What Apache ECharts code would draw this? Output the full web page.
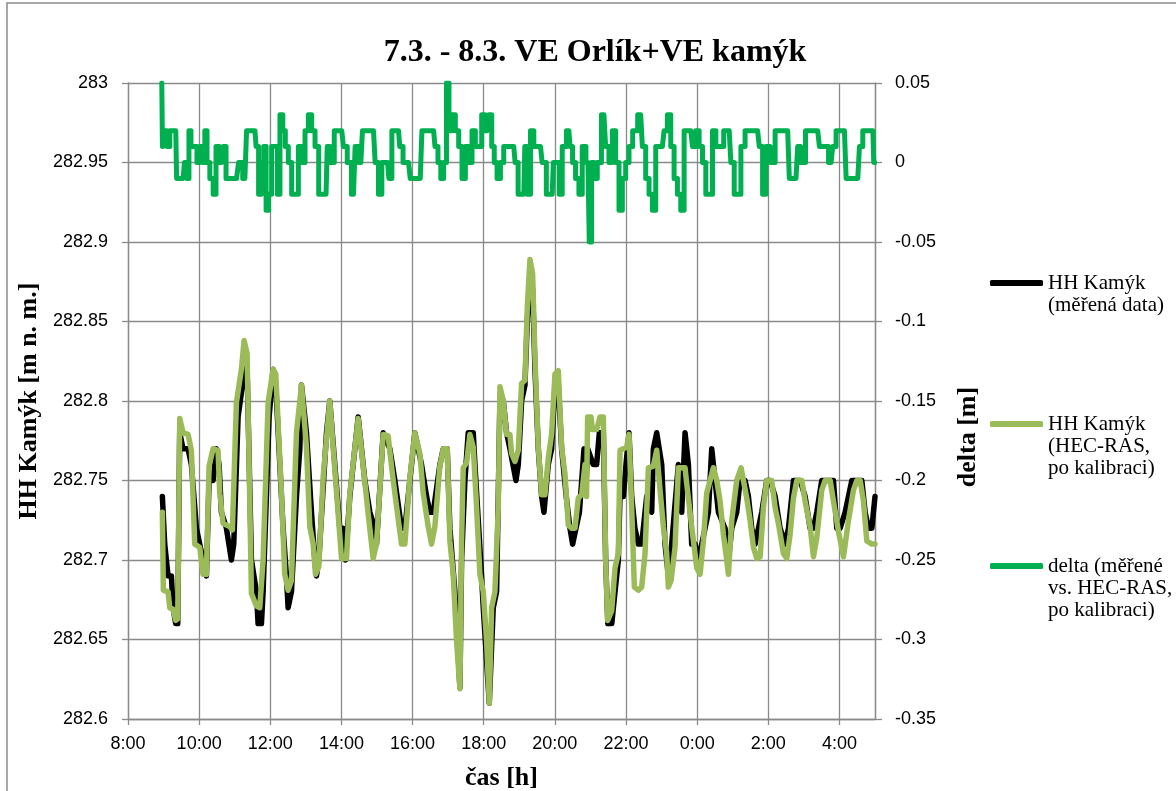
<!DOCTYPE html>
<html>
<head>
<meta charset="utf-8">
<script src="https://cdn.jsdelivr.net/npm/echarts@6/dist/echarts.min.js"></script>
<style>
  html, body { margin: 0; padding: 0; background: #ffffff; }
  #chart { width: 1176px; height: 791px; }
</style>
</head>
<body>
<div id="chart"></div>
<script>
// Time is given in hours from midnight of 7.3.; values above 24 fall on 8.3.
const timeTickHours  = [8, 10, 12, 14, 16, 18, 20, 22, 24, 26, 28];
const timeTickLabels = ['8:00', '10:00', '12:00', '14:00', '16:00', '18:00', '20:00', '22:00', '0:00', '2:00', '4:00'];

// Water level at Kamýk, measured [hour, m n. m.]
const measuredLevel = [
  [8.966, 282.740], [9.032, 282.710], [9.126, 282.690], [9.220, 282.690], [9.266, 282.670],
  [9.341, 282.660], [9.398, 282.660], [9.454, 282.780], [9.548, 282.770], [9.688, 282.770],
  [9.782, 282.760], [9.923, 282.720], [10.016, 282.710], [10.110, 282.700], [10.204, 282.690],
  [10.279, 282.750], [10.392, 282.750], [10.485, 282.770], [10.560, 282.760], [10.626, 282.730],
  [10.767, 282.720], [10.907, 282.700], [10.973, 282.710], [11.095, 282.790], [11.217, 282.810],
  [11.283, 282.830], [11.348, 282.820], [11.470, 282.700], [11.610, 282.680], [11.657, 282.660],
  [11.751, 282.660], [11.798, 282.680], [11.967, 282.790], [12.079, 282.820], [12.154, 282.810],
  [12.360, 282.720], [12.454, 282.690], [12.501, 282.670], [12.595, 282.680], [12.736, 282.740],
  [12.830, 282.770], [12.877, 282.810], [13.017, 282.780], [13.158, 282.730], [13.252, 282.700],
  [13.298, 282.690], [13.364, 282.700], [13.580, 282.780], [13.673, 282.800], [13.814, 282.760],
  [13.955, 282.720], [14.049, 282.720], [14.114, 282.700], [14.236, 282.740], [14.471, 282.790],
  [14.658, 282.750], [14.799, 282.730], [14.939, 282.720], [14.986, 282.710], [15.174, 282.780],
  [15.361, 282.770], [15.502, 282.750], [15.689, 282.720], [15.783, 282.720], [15.924, 282.750],
  [16.064, 282.780], [16.252, 282.760], [16.393, 282.740], [16.486, 282.730], [16.580, 282.730],
  [16.768, 282.760], [16.862, 282.770], [16.974, 282.770], [17.049, 282.720], [17.190, 282.680],
  [17.331, 282.620], [17.378, 282.700], [17.471, 282.750], [17.565, 282.780], [17.706, 282.780],
  [17.753, 282.760], [17.940, 282.690], [17.987, 282.670], [18.156, 282.610], [18.268, 282.670],
  [18.362, 282.680], [18.456, 282.800], [18.550, 282.800], [18.643, 282.780], [18.737, 282.770],
  [18.906, 282.750], [18.972, 282.760], [19.065, 282.800], [19.159, 282.810], [19.225, 282.850],
  [19.300, 282.880], [19.375, 282.870], [19.440, 282.820], [19.534, 282.770], [19.628, 282.740],
  [19.694, 282.730], [19.815, 282.760], [19.909, 282.770], [20.003, 282.810], [20.097, 282.810],
  [20.190, 282.770], [20.320, 282.740], [20.425, 282.720], [20.500, 282.710], [20.594, 282.720],
  [20.690, 282.730], [20.820, 282.770], [20.880, 282.750], [20.922, 282.770], [21.080, 282.760],
  [21.175, 282.760], [21.250, 282.780], [21.363, 282.780], [21.428, 282.700], [21.490, 282.660],
  [21.600, 282.660], [21.691, 282.680], [21.785, 282.700], [21.830, 282.740], [21.925, 282.740],
  [22.000, 282.760], [22.085, 282.780], [22.160, 282.740], [22.250, 282.720], [22.347, 282.710],
  [22.441, 282.710], [22.582, 282.740], [22.722, 282.730], [22.769, 282.770], [22.863, 282.780],
  [23.004, 282.760], [23.097, 282.710], [23.191, 282.690], [23.285, 282.710], [23.472, 282.760],
  [23.566, 282.730], [23.660, 282.780], [23.754, 282.760], [23.847, 282.710], [23.941, 282.710],
  [24.035, 282.700], [24.129, 282.710], [24.316, 282.730], [24.410, 282.770], [24.504, 282.750],
  [24.598, 282.730], [24.785, 282.720], [24.879, 282.700], [24.973, 282.720], [25.113, 282.730],
  [25.207, 282.750], [25.348, 282.750], [25.441, 282.740], [25.535, 282.720], [25.629, 282.710],
  [25.723, 282.720], [25.816, 282.730], [25.957, 282.750], [26.051, 282.750], [26.192, 282.740],
  [26.332, 282.720], [26.473, 282.710], [26.567, 282.720], [26.707, 282.750], [26.895, 282.750],
  [27.035, 282.740], [27.176, 282.720], [27.270, 282.720], [27.363, 282.730], [27.504, 282.750],
  [27.692, 282.750], [27.832, 282.750], [27.926, 282.720], [28.020, 282.720], [28.160, 282.730],
  [28.348, 282.750], [28.489, 282.750], [28.629, 282.750], [28.723, 282.730], [28.817, 282.720],
  [28.911, 282.720], [29.000, 282.740]
];

// Water level at Kamýk, HEC-RAS model after calibration [hour, m n. m.]
const modelLevel = [
  [8.966, 282.730], [8.994, 282.681], [9.126, 282.680], [9.173, 282.670], [9.266, 282.669],
  [9.341, 282.662], [9.398, 282.663], [9.454, 282.789], [9.548, 282.780], [9.688, 282.779],
  [9.782, 282.769], [9.876, 282.710], [10.016, 282.708], [10.110, 282.691], [10.204, 282.691],
  [10.279, 282.759], [10.392, 282.770], [10.532, 282.769], [10.579, 282.742], [10.673, 282.723],
  [10.860, 282.721], [10.935, 282.719], [11.048, 282.799], [11.188, 282.820], [11.264, 282.838],
  [11.348, 282.830], [11.470, 282.679], [11.610, 282.671], [11.704, 282.670], [11.798, 282.700],
  [11.939, 282.799], [12.079, 282.820], [12.154, 282.817], [12.314, 282.742], [12.407, 282.691],
  [12.501, 282.681], [12.595, 282.687], [12.736, 282.780], [12.877, 282.810], [13.017, 282.771],
  [13.111, 282.721], [13.205, 282.710], [13.270, 282.691], [13.364, 282.696], [13.486, 282.752],
  [13.673, 282.800], [13.767, 282.771], [13.908, 282.729], [14.002, 282.701], [14.142, 282.701],
  [14.236, 282.742], [14.471, 282.789], [14.611, 282.759], [14.752, 282.729], [14.892, 282.701],
  [14.986, 282.710], [15.174, 282.779], [15.314, 282.778], [15.408, 282.759], [15.502, 282.742],
  [15.689, 282.710], [15.783, 282.710], [15.924, 282.752], [16.064, 282.780], [16.205, 282.767],
  [16.299, 282.742], [16.440, 282.721], [16.533, 282.710], [16.627, 282.721], [16.768, 282.759],
  [16.862, 282.770], [16.974, 282.770], [17.049, 282.712], [17.143, 282.691], [17.237, 282.649],
  [17.331, 282.619], [17.378, 282.712], [17.424, 282.758], [17.518, 282.761], [17.612, 282.779],
  [17.706, 282.771], [17.800, 282.733], [17.893, 282.691], [17.987, 282.680], [18.081, 282.649],
  [18.156, 282.610], [18.222, 282.670], [18.315, 282.680], [18.409, 282.733], [18.456, 282.809],
  [18.550, 282.800], [18.643, 282.779], [18.737, 282.779], [18.784, 282.767], [18.878, 282.762],
  [18.972, 282.769], [19.065, 282.811], [19.159, 282.813], [19.225, 282.859], [19.300, 282.889],
  [19.375, 282.880], [19.440, 282.828], [19.534, 282.771], [19.628, 282.741], [19.722, 282.741],
  [19.815, 282.764], [19.909, 282.779], [20.003, 282.817], [20.097, 282.819], [20.190, 282.771],
  [20.284, 282.754], [20.378, 282.722], [20.472, 282.720], [20.565, 282.720], [20.659, 282.739],
  [20.753, 282.741], [20.847, 282.760], [20.890, 282.740], [20.922, 282.790], [21.016, 282.790],
  [21.053, 282.782], [21.175, 282.782], [21.269, 282.790], [21.363, 282.790], [21.428, 282.700],
  [21.485, 282.662], [21.597, 282.668], [21.691, 282.695], [21.785, 282.704], [21.832, 282.769],
  [21.925, 282.770], [22.019, 282.771], [22.085, 282.779], [22.160, 282.733], [22.235, 282.683],
  [22.347, 282.681], [22.441, 282.683], [22.535, 282.704], [22.629, 282.758], [22.769, 282.759],
  [22.863, 282.769], [22.957, 282.744], [23.051, 282.721], [23.144, 282.704], [23.191, 282.683],
  [23.266, 282.687], [23.379, 282.708], [23.472, 282.758], [23.660, 282.758], [23.707, 282.748],
  [23.847, 282.721], [23.988, 282.695], [24.082, 282.691], [24.176, 282.712], [24.269, 282.742],
  [24.363, 282.750], [24.457, 282.758], [24.551, 282.750], [24.645, 282.737], [24.738, 282.716],
  [24.832, 282.700], [24.879, 282.691], [24.973, 282.725], [25.113, 282.750], [25.235, 282.758],
  [25.301, 282.750], [25.394, 282.739], [25.488, 282.725], [25.582, 282.708], [25.676, 282.701],
  [25.770, 282.702], [25.863, 282.733], [25.957, 282.750], [26.098, 282.750], [26.192, 282.733],
  [26.285, 282.723], [26.426, 282.704], [26.520, 282.701], [26.613, 282.716], [26.707, 282.739],
  [26.801, 282.750], [26.942, 282.750], [27.035, 282.737], [27.176, 282.721], [27.270, 282.702],
  [27.363, 282.714], [27.504, 282.744], [27.598, 282.750], [27.739, 282.750], [27.832, 282.737],
  [27.973, 282.718], [28.114, 282.702], [28.254, 282.725], [28.395, 282.744], [28.489, 282.750],
  [28.583, 282.750], [28.676, 282.737], [28.770, 282.712], [28.911, 282.710], [29.000, 282.710]
];

// Difference measured vs. HEC-RAS [hour, m]
const levelDelta = [
  [8.950, 0.05], [8.986, 0.01], [9.061, 0.02], [9.127, 0.01], [9.221, 0.02], [9.343, 0.02],
  [9.390, -0.01], [9.549, -0.01], [9.624, 0], [9.690, -0.01], [9.737, 0.02], [9.803, 0.01],
  [9.906, 0.01], [9.972, 0], [10.066, 0.01], [10.131, 0], [10.188, 0.02], [10.254, 0],
  [10.347, -0.01], [10.441, -0.02], [10.507, 0.01], [10.629, 0], [10.723, 0.01], [10.789, -0.01],
  [11.052, -0.01], [11.164, 0], [11.286, -0.01], [11.380, 0.02], [11.568, 0.02], [11.634, 0.01],
  [11.709, -0.02], [11.784, 0], [11.850, 0.01], [11.915, -0.03], [11.991, -0.02], [12.085, 0.01],
  [12.178, 0.01], [12.225, -0.02], [12.319, 0.03], [12.385, 0.02], [12.460, 0.01], [12.554, 0],
  [12.648, -0.02], [12.742, -0.02], [12.836, 0.01], [12.930, 0], [13.023, 0.02], [13.117, 0.03],
  [13.211, 0.02], [13.305, 0.01], [13.418, -0.02], [13.568, -0.02], [13.634, 0.01], [13.728, 0],
  [13.869, 0.02], [14.009, 0.02], [14.103, 0.01], [14.225, 0], [14.338, -0.02], [14.432, 0.01],
  [14.545, 0], [14.638, 0.02], [14.901, 0.02], [14.995, 0], [15.089, -0.02], [15.183, 0],
  [15.296, 0], [15.371, -0.01], [15.465, 0.02], [15.606, 0.02], [15.671, 0.01], [15.793, 0],
  [15.887, 0], [15.981, -0.01], [16.216, -0.01], [16.310, 0.02], [16.592, 0.02], [16.667, 0.01],
  [16.761, 0], [16.826, -0.01], [16.920, 0], [16.986, 0.05], [17.061, 0.02], [17.155, 0.03],
  [17.249, 0.02], [17.343, 0.01], [17.437, -0.01], [17.531, 0.01], [17.624, 0], [17.718, 0.02],
  [17.812, 0.01], [17.906, 0.01], [17.981, 0.03], [18.094, 0.02], [18.188, 0.03], [18.263, 0.01],
  [18.329, 0], [18.423, -0.01], [18.516, 0], [18.610, 0.01], [18.845, 0.01], [18.920, 0],
  [19.014, -0.02], [19.127, -0.02], [19.183, 0.01], [19.268, -0.02], [19.362, 0.02], [19.455, 0.01],
  [19.596, 0.01], [19.690, 0], [19.831, -0.02], [19.925, -0.02], [19.991, 0], [20.085, 0],
  [20.160, -0.02], [20.254, 0.01], [20.394, 0.02], [20.460, 0.01], [20.535, 0], [20.629, -0.01],
  [20.723, -0.02], [20.817, 0.01], [20.930, 0], [21.005, -0.05], [21.061, 0], [21.146, -0.01],
  [21.239, 0], [21.380, 0.03], [21.474, 0.01], [21.568, 0], [21.662, 0.02], [21.756, 0],
  [21.850, -0.03], [21.944, -0.01], [22.038, 0], [22.131, 0.01], [22.244, 0.02], [22.413, 0.03],
  [22.507, 0.01], [22.601, -0.01], [22.695, -0.02], [22.789, -0.03], [22.883, 0.01], [23.023, 0.01],
  [23.117, 0.02], [23.211, 0.03], [23.305, 0.01], [23.399, -0.01], [23.493, -0.02], [23.587, -0.03],
  [23.681, 0.02], [23.822, 0.02], [23.915, 0.01], [24.009, 0.02], [24.103, 0.01], [24.197, 0],
  [24.291, -0.02], [24.385, -0.02], [24.479, 0.02], [24.573, 0.01], [24.685, 0.01], [24.808, 0.02],
  [24.901, 0.02], [24.995, 0], [25.089, -0.02], [25.183, -0.02], [25.277, 0.01], [25.418, 0.02],
  [25.700, 0.02], [25.793, 0.01], [25.887, -0.02], [25.981, 0.01], [26.122, 0], [26.263, 0.02],
  [26.545, 0.02], [26.638, -0.01], [26.779, -0.01], [26.873, 0.01], [26.939, 0], [27.155, 0.02],
  [27.390, 0.02], [27.484, 0.01], [27.624, 0.01], [27.765, 0], [27.859, 0.01], [27.953, 0.02],
  [28.141, 0.02], [28.235, -0.01], [28.516, -0.01], [28.610, 0.01], [28.704, 0.02], [28.940, 0.02],
  [28.990, 0]
];

const seriesNames = [
  'HH Kamýk (měřená data)',
  'HH Kamýk (HEC-RAS, po kalibraci)',
  'delta (měřené vs. HEC-RAS, po kalibraci)'
];
const legendLines = [
  ['HH Kamýk', '(měřená data)'],
  ['HH Kamýk', '(HEC-RAS,', 'po kalibraci)'],
  ['delta (měřené', 'vs. HEC-RAS,', 'po kalibraci)']
];
const seriesColors = ['#000000', '#9BBB59', '#00B050'];

const GRID_COLOR = '#8a8a8a';
const sansFont = 'Liberation Sans';
const serifFont = 'Liberation Serif';

// Legend text: padding lines above keep the marker level with the first line
function legendText(i) {
  const lines = legendLines[i];
  return '\n'.repeat(lines.length - 1) + lines.join('\n');
}
function makeLegend(i, top) {
  return {
    data: [seriesNames[i]],
    left: 990,
    top: top,
    padding: 0,
    itemWidth: 53,
    itemHeight: 6,
    icon: 'roundRect',
    selectedMode: false,
    formatter: () => legendText(i),
    textStyle: { fontFamily: serifFont, fontSize: 21, lineHeight: 22, color: '#000' }
  };
}

const chart = echarts.init(document.getElementById('chart'), null, { renderer: 'canvas' });

chart.setOption({
  animation: false,
  backgroundColor: '#ffffff',
  title: {
    text: '7.3. - 8.3. VE Orlík+VE kamýk',
    left: 595,
    textAlign: 'center',
    top: 37,
    padding: 0,
    textStyle: { fontFamily: serifFont, fontWeight: 'bold', fontSize: 32, color: '#000' }
  },
  graphic: [{
    type: 'rect',
    shape: { x: 7, y: 3, width: 1200, height: 820 },
    style: { fill: 'none', stroke: '#8c8c8c', lineWidth: 1.5 },
    silent: true,
    z: -1
  }],
  legend: [makeLegend(0, 250), makeLegend(1, 369), makeLegend(2, 511)],
  grid: {
    left: 128, right: 301, top: 83, bottom: 72,
    containLabel: false,
    outerBoundsMode: 'none'
  },
  xAxis: {
    type: 'value',
    min: 8,
    max: 29,
    interval: 2,
    name: 'čas [h]',
    nameLocation: 'middle',
    nameGap: 46,
    nameTextStyle: { fontFamily: serifFont, fontWeight: 'bold', fontSize: 26, color: '#000' },
    axisLine: { show: true, onZero: false, lineStyle: { color: GRID_COLOR, width: 1.3 } },
    axisTick: { show: true, length: 6, lineStyle: { color: GRID_COLOR, width: 1.3 } },
    axisLabel: {
      margin: 16,
      showMaxLabel: false,
      fontFamily: sansFont, fontSize: 18, color: '#000',
      formatter: v => {
        const i = timeTickHours.indexOf(v);
        return i >= 0 ? timeTickLabels[i] : '';
      }
    },
    splitLine: { show: true, lineStyle: { color: GRID_COLOR, width: 1.3 } }
  },
  yAxis: [{
    type: 'value',
    min: 282.6,
    max: 283,
    interval: 0.05,
    position: 'left',
    name: 'HH Kamýk [m n. m.]',
    nameLocation: 'middle',
    nameRotate: 90,
    nameGap: 83,
    nameTextStyle: { fontFamily: serifFont, fontWeight: 'bold', fontSize: 26, color: '#000' },
    axisLine: { show: true, lineStyle: { color: GRID_COLOR, width: 1.3 } },
    axisTick: { show: true, length: 6, lineStyle: { color: GRID_COLOR, width: 1.3 } },
    axisLabel: { margin: 20, fontFamily: sansFont, fontSize: 18, color: '#000' },
    splitLine: { show: true, lineStyle: { color: GRID_COLOR, width: 1.3 } }
  }, {
    type: 'value',
    min: -0.35,
    max: 0.05,
    interval: 0.05,
    position: 'right',
    name: 'delta [m]',
    nameLocation: 'middle',
    nameRotate: 90,
    nameGap: 80,
    nameTextStyle: {
      fontFamily: serifFont, fontWeight: 'bold', fontSize: 26, color: '#000',
      padding: [0, 72, 0, 0]
    },
    axisLine: { show: true, lineStyle: { color: GRID_COLOR, width: 1.3 } },
    axisTick: { show: true, length: 7, lineStyle: { color: GRID_COLOR, width: 1.3 } },
    axisLabel: { margin: 20, fontFamily: sansFont, fontSize: 18, color: '#000' },
    splitLine: { show: false }
  }],
  series: [{
    name: seriesNames[0],
    type: 'line',
    yAxisIndex: 0,
    data: measuredLevel,
    showSymbol: false,
    color: seriesColors[0],
    lineStyle: { width: 5.5, color: seriesColors[0], join: 'round', cap: 'round' },
    z: 2
  }, {
    name: seriesNames[1],
    type: 'line',
    yAxisIndex: 0,
    data: modelLevel,
    showSymbol: false,
    color: seriesColors[1],
    lineStyle: { width: 5.5, color: seriesColors[1], join: 'round', cap: 'round' },
    z: 3
  }, {
    name: seriesNames[2],
    type: 'line',
    yAxisIndex: 1,
    data: levelDelta,
    step: 'middle',
    showSymbol: false,
    color: seriesColors[2],
    lineStyle: { width: 5, color: seriesColors[2], join: 'round', cap: 'round' },
    z: 4
  }]
});
</script>
</body>
</html>
